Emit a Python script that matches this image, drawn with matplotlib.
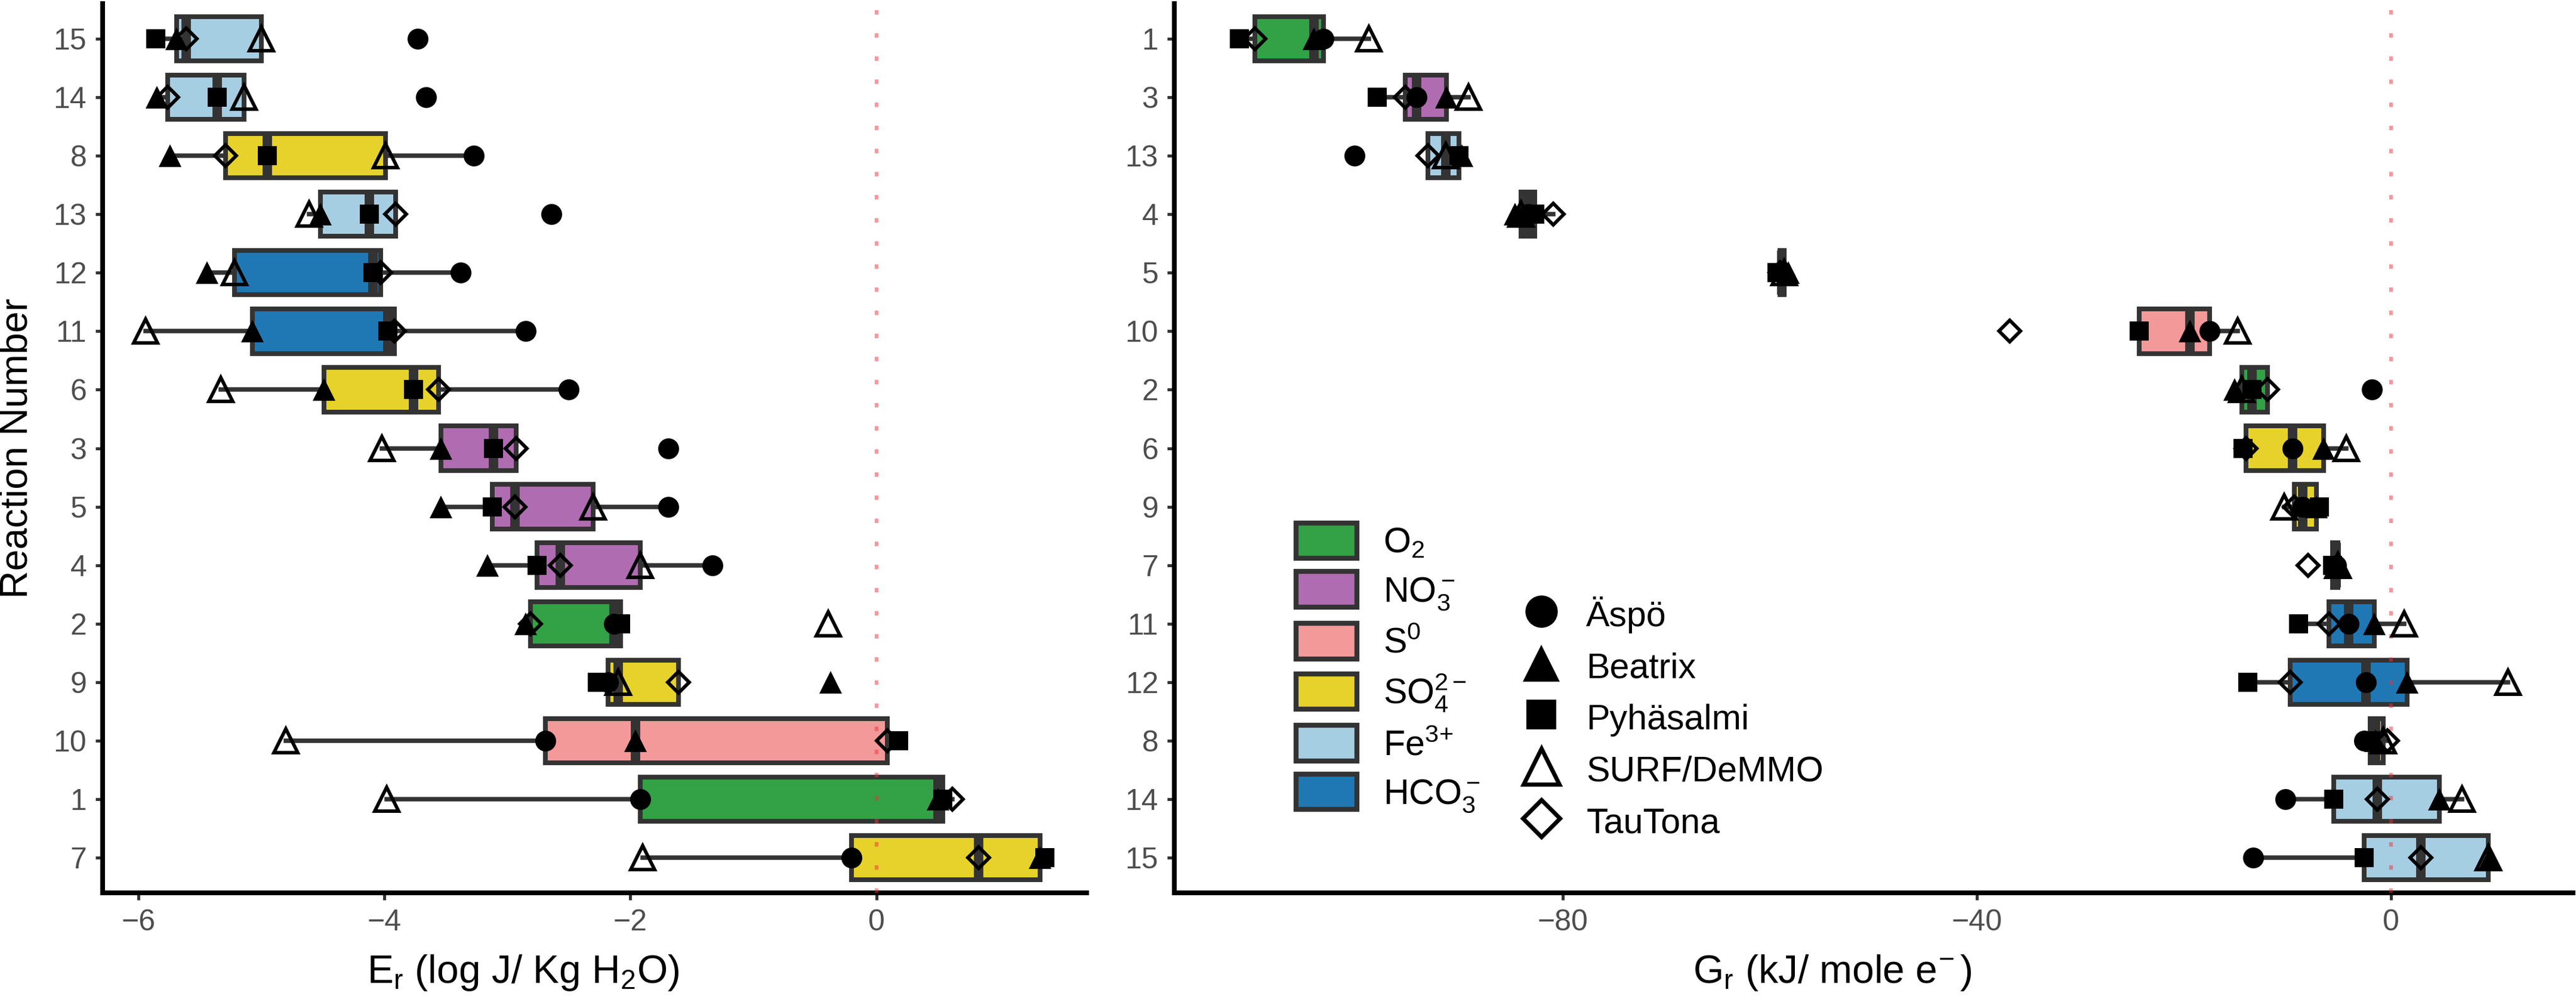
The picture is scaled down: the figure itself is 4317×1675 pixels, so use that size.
import numpy as np
import matplotlib
matplotlib.use("Agg")
import matplotlib.pyplot as plt
from matplotlib.patches import Patch
from matplotlib.lines import Line2D

plt.rcParams["font.family"] = ["Liberation Sans", "DejaVu Sans"]
plt.rcParams["mathtext.fontset"] = "custom"
plt.rcParams["mathtext.rm"] = "Liberation Sans"
plt.rcParams["mathtext.it"] = "Liberation Sans:italic"
plt.rcParams["mathtext.bf"] = "Liberation Sans:bold"

# reaction numbers 1..15 and their electron acceptor
reactions = list(range(1, 16))
acceptor = ["O2", "O2", "NO3", "NO3", "NO3", "SO4", "SO4", "SO4", "SO4", "S0",
            "HCO3", "HCO3", "Fe", "Fe", "Fe"]

# row order (top to bottom) of each panel
order_er = [15, 14, 8, 13, 12, 11, 6, 3, 5, 4, 2, 9, 10, 1, 7]
order_gr = [1, 3, 13, 4, 5, 10, 2, 6, 9, 7, 11, 12, 8, 14, 15]

# Er (log J / Kg H2O), one value per reaction 1..15
er_aspo = [-1.92, -2.13, -1.69, -1.33, -1.69, -2.50, -0.20, -3.27, -2.18, -2.69, -2.85, -3.38, -2.64, -3.66, -3.73]
er_beatrix = [0.50, -2.85, -3.54, -3.16, -3.54, -4.49, 1.33, -5.74, -0.37, -1.96, -5.07, -5.44, -4.52, -5.85, -5.69]
er_pyhasalmi = [0.54, -2.08, -3.11, -2.76, -3.12, -3.76, 1.37, -4.95, -2.27, 0.18, -3.97, -4.09, -4.12, -5.36, -5.86]
er_surf = [-3.98, -0.39, -4.02, -1.92, -2.30, -5.33, -1.90, -3.99, -2.10, -4.80, -5.94, -5.22, -4.61, -5.14, -5.00]
er_tautona = [0.62, -2.81, -2.93, -2.57, -2.94, -3.56, 0.83, -5.29, -1.61, 0.09, -3.92, -4.03, -3.91, -5.76, -5.61]

# Gr (kJ / mole e-), one value per reaction 1..15
gr_aspo = [-103.1, -1.8, -94.1, -83.3, -58.8, -9.5, -5.3, -2.6, -8.5, -17.5, -4.1, -2.4, -100.1, -10.2, -13.3]
gr_beatrix = [-104.0, -15.1, -91.2, -84.6, -58.2, -6.5, -5.0, -1.5, -7.2, -19.4, -1.6, 1.6, -89.7, 4.7, 9.6]
gr_pyhasalmi = [-111.2, -13.4, -97.9, -82.7, -59.3, -14.3, -5.6, -2.0, -6.9, -24.3, -8.9, -13.8, -90.0, -5.5, -2.6]
gr_surf = [-98.7, -14.4, -89.1, -84.0, -58.6, -4.3, -5.1, -0.7, -10.3, -14.8, 1.3, 11.3, -91.3, 6.9, 9.4]
gr_tautona = [-109.7, -11.9, -95.2, -80.9, -59.0, -14.0, -8.0, -0.3, -9.3, -36.8, -6.0, -9.7, -93.0, -1.3, 2.9]

site_names = ["Äspö", "Beatrix", "Pyhäsalmi", "SURF/DeMMO", "TauTona"]
acceptor_keys = ["O2", "NO3", "S0", "SO4", "Fe", "HCO3"]
acceptor_labels = [r"$\mathregular{O_2}$", r"$\mathregular{NO_3^-}$", r"$\mathregular{S^0}$",
                   r"$\mathregular{SO_4^{2-}}$", r"$\mathregular{Fe^{3\!+}}$", r"$\mathregular{HCO_3^-}$"]
fill_colors = {"O2": "#33a146", "NO3": "#b06cb0", "S0": "#f4999a", "SO4": "#e6d22a",
               "Fe": "#a6cee3", "HCO3": "#1f78b4"}

site_styles = [
    dict(marker="o", color="black", markersize=8.4, markeredgewidth=0),
    dict(marker="^", color="black", markersize=9.2, markeredgewidth=0),
    dict(marker="s", color="black", markersize=7.6, markeredgewidth=0),
    dict(marker="^", markerfacecolor="none", markeredgecolor="black", markersize=9.4, markeredgewidth=1.4),
    dict(marker="D", markerfacecolor="none", markeredgecolor="black", markersize=6.2, markeredgewidth=1.4),
]
legend_styles = [
    dict(marker="o", color="black", markersize=13.0, markeredgewidth=0),
    dict(marker="^", color="black", markersize=15.0, markeredgewidth=0),
    dict(marker="s", color="black", markersize=12.0, markeredgewidth=0),
    dict(marker="^", markerfacecolor="none", markeredgecolor="black", markersize=14.5, markeredgewidth=1.7),
    dict(marker="D", markerfacecolor="none", markeredgecolor="black", markersize=10.5, markeredgewidth=1.7),
]

W, H = 4317, 1675
fig = plt.figure(figsize=(W / 300, H / 300), dpi=300)
ax1 = fig.add_axes([172 / W, 1 - 1497 / H, (1821 - 172) / W, (1497 - 6) / H])
ax2 = fig.add_axes([1968 / W, 1 - 1497 / H, (4312 - 1968) / W, (1497 - 6) / H])


def draw_panel(ax, order, sites):
    pos = np.arange(len(order))[::-1]
    data = [[s[r - 1] for s in sites] for r in order]
    bp = ax.boxplot(data, positions=pos, orientation="horizontal", widths=0.76,
                    patch_artist=True, showfliers=False, showcaps=False, whis=1.5,
                    boxprops=dict(edgecolor="#333333", linewidth=1.9, joinstyle="miter"),
                    medianprops=dict(color="#333333", linewidth=3.8, solid_capstyle="butt"),
                    whiskerprops=dict(color="#333333", linewidth=1.8))
    for patch, r in zip(bp["boxes"], order):
        patch.set_facecolor(fill_colors[acceptor[r - 1]])
        patch.set_zorder(2)
    ax.axvline(0, color="#f0303c", alpha=0.5, linewidth=1.5, linestyle=(0, (1.2, 5)), zorder=3)
    for s, style in zip(sites, site_styles):
        ax.plot([s[r - 1] for r in order], pos, linestyle="none", zorder=4, **style)
    ax.set_ylim(-0.6, len(order) - 0.4)
    ax.set_yticks(pos)
    ax.set_yticklabels([str(r) for r in order])
    for side in ["top", "right"]:
        ax.spines[side].set_visible(False)
    for side in ["left", "bottom"]:
        ax.spines[side].set_linewidth(1.9)
        ax.spines[side].set_color("black")
    ax.tick_params(length=2.9, width=1.2, color="#333333", labelcolor="#4d4d4d",
                   labelsize=12, pad=3.5)


draw_panel(ax1, order_er, [er_aspo, er_beatrix, er_pyhasalmi, er_surf, er_tautona])
draw_panel(ax2, order_gr, [gr_aspo, gr_beatrix, gr_pyhasalmi, gr_surf, gr_tautona])

ax1.set_xlim(-6.29, 1.71)
ax1.set_xticks([-6, -4, -2, 0])
ax2.set_xlim(-117.5, 17.6)
ax2.set_xticks([-80, -40, 0])

ax1.set_xlabel(r"$\mathregular{E_r}$ (log J/ Kg $\mathregular{H_2}$O)", fontsize=15.8, va="center")
ax1.xaxis.set_label_coords(0.4275, -0.0899)
ax2.set_xlabel(r"$\mathregular{G_r}$ (kJ/ mole $\mathregular{e^{\!-}}$)", fontsize=15.8, va="center")
ax2.xaxis.set_label_coords(0.4706, -0.0899)
ax1.set_ylabel("Reaction Number", fontsize=15.5, va="center")
ax1.yaxis.set_label_coords(-0.0873, 0.5)

fill_handles = [Patch(facecolor=fill_colors[k], edgecolor="#333333", linewidth=2.0) for k in acceptor_keys]
leg1 = ax2.legend(fill_handles, acceptor_labels, loc="upper left",
                  bbox_to_anchor=(2172 / W, 1 - 877 / H), bbox_transform=fig.transFigure,
                  frameon=False, fontsize=14.2, handlelength=1.72, handleheight=1.17,
                  handletextpad=0.75, labelspacing=0.33, borderpad=0, borderaxespad=0)
ax2.add_artist(leg1)

shape_handles = [Line2D([], [], linestyle="none", **st) for st in legend_styles]
ax2.legend(shape_handles, site_names, loc="upper left",
           bbox_to_anchor=(2540 / W, 1 - 1000 / H), bbox_transform=fig.transFigure,
           frameon=False, fontsize=14.2, handlelength=1.45, handleheight=1.17,
           handletextpad=0.55, labelspacing=0.42, borderpad=0, borderaxespad=0)

fig.savefig("out.png", dpi=300)
